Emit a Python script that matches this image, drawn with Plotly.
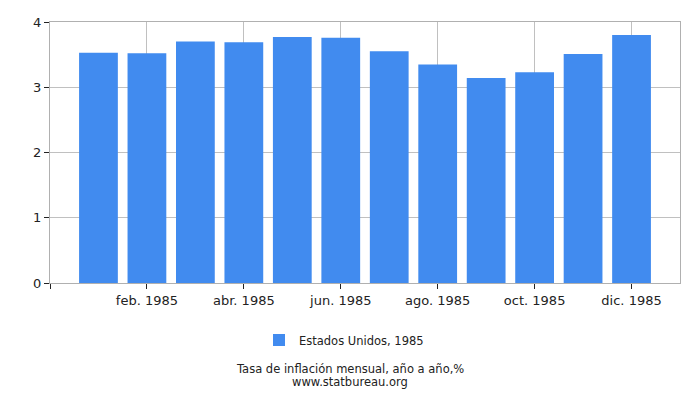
import plotly.graph_objects as go

months = ['ene. 1985', 'feb. 1985', 'mar. 1985', 'abr. 1985', 'may. 1985', 'jun. 1985',
          'jul. 1985', 'ago. 1985', 'sep. 1985', 'oct. 1985', 'nov. 1985', 'dic. 1985']
inflation = [3.53, 3.52, 3.70, 3.69, 3.77, 3.76, 3.55, 3.35, 3.14, 3.23, 3.51, 3.80]
y_ticks = [0, 1, 2, 3, 4]
series_name = 'Estados Unidos, 1985'
caption = 'Tasa de inflación mensual, año a año,%'
source = 'www.statbureau.org'

pos = list(range(len(months)))
shown = [i for i in pos if i % 2 == 1]

# page has an 8px body margin, so margins are shifted to compensate
plot_h = 400 - 14 - 125
cx = (342 - 42) / 630.0

trace = go.Bar(x=pos, y=inflation, name=series_name,
               marker=dict(color='#418bef', line=dict(width=0)),
               width=0.8, showlegend=True)

layout = go.Layout(width=700, height=400,
                   margin=dict(l=42, r=28, t=14, b=125, autoexpand=False),
                   plot_bgcolor='white', paper_bgcolor='white',
                   font=dict(family='DejaVu Sans', size=13, color='#222'),
                   legend=dict(orientation='h', x=(336 - 42) / 630.0, xanchor='center',
                               y=-57.0 / plot_h, yanchor='middle',
                               font=dict(size=11.5)),
                   annotations=[dict(text=caption, x=cx, y=-86.0 / plot_h,
                                     xref='paper', yref='paper',
                                     xanchor='center', yanchor='middle', showarrow=False,
                                     font=dict(size=11.5, color='#222')),
                                dict(text=source, x=cx, y=-99.5 / plot_h,
                                     xref='paper', yref='paper',
                                     xanchor='center', yanchor='middle', showarrow=False,
                                     font=dict(size=11.5, color='#222'))])

layout.update(xaxis=dict(range=[-1, 12], autorange=False,
                         tickvals=[-1] + shown,
                         ticktext=[''] + [months[i] for i in shown],
                         showgrid=True, gridcolor='#c0c0c0',
                         ticks='outside', ticklen=5, tickcolor='#222',
                         showline=True, linecolor='#b0b0b0', mirror=True,
                         zeroline=False),
              yaxis=dict(range=[0, 4], autorange=False, tickvals=y_ticks,
                         showgrid=True, gridcolor='#c0c0c0',
                         ticks='outside', ticklen=5, tickcolor='#222',
                         showline=True, linecolor='#b0b0b0', mirror=True,
                         zeroline=False))

fig = go.Figure(data=[trace], layout=layout)
fig.write_html("out.html")
